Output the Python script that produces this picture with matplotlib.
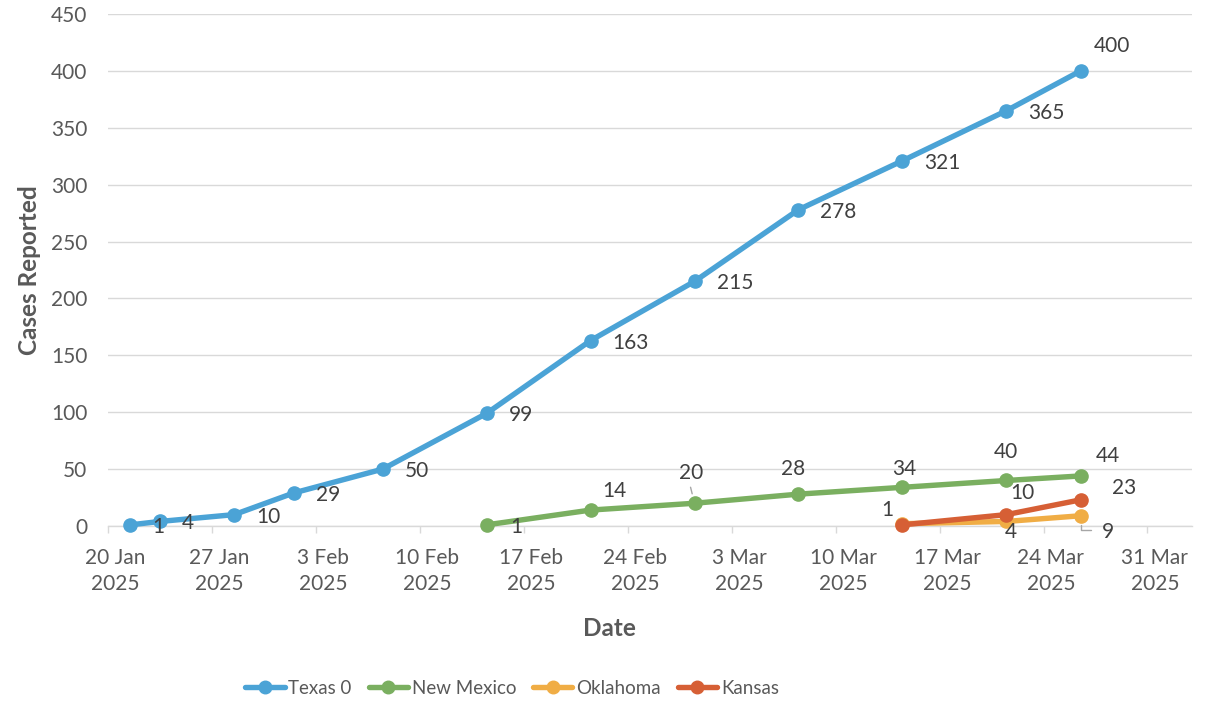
import datetime as dt
import matplotlib
matplotlib.use("Agg")
import matplotlib.pyplot as plt
import matplotlib.dates as mdates
from matplotlib.ticker import FixedLocator, MultipleLocator

plt.rcParams["font.family"] = ["Lato", "DejaVu Sans"]

# ---- data -------------------------------------------------------------
texas_dates = ["2025-01-21", "2025-01-23", "2025-01-28", "2025-02-01", "2025-02-07",
               "2025-02-14", "2025-02-21", "2025-02-28", "2025-03-07", "2025-03-14",
               "2025-03-21", "2025-03-26"]
texas_cases = [1, 4, 10, 29, 50, 99, 163, 215, 278, 321, 365, 400]

nm_dates = ["2025-02-14", "2025-02-21", "2025-02-28", "2025-03-07", "2025-03-14",
            "2025-03-21", "2025-03-26"]
nm_cases = [1, 14, 20, 28, 34, 40, 44]

ok_dates = ["2025-03-14", "2025-03-21", "2025-03-26"]
ok_cases = [2, 4, 9]

ks_dates = ["2025-03-14", "2025-03-21", "2025-03-26"]
ks_cases = [1, 10, 23]

series_names = ["Texas 0", "New Mexico", "Oklahoma", "Kansas"]

# ---- styling ----------------------------------------------------------
TXT = "#595959"
GRID = "#d9d9d9"
colors = ["#4ba3d6", "#7aaf60", "#f0ad45", "#d65f35"]

# label offsets in pixels (dx, dy, ha) for each point
tx_off = [(22, -2, "left")] * 11 + [(31, 25, "center")]
nm_off = [(24, -2, "left"), (24, 19, "center"), (-3, 30, "center"), (-5, 25, "center"),
          (2, 18, "center"), (0, 28, "center"), (27, 20, "center")]
ok_off = [None, (4, -11, "center"), (27, -16, "center")]
ks_off = [(-15, 15, "center"), (16, 22, "center"), (43, 12, "center")]

W, H = 1208, 703
fig = plt.figure(figsize=(W / 100, H / 100), dpi=100)
ax = fig.add_axes([108 / W, 1 - 526 / H, (1192 - 108) / W, (526 - 14) / H])


def to_x(dates):
    # points sit in the middle of their day on the date axis
    return [mdates.date2num(dt.date.fromisoformat(d)) + 0.5 for d in dates]


all_series = [
    (texas_dates, texas_cases, tx_off),
    (nm_dates, nm_cases, nm_off),
    (ok_dates, ok_cases, ok_off),
    (ks_dates, ks_cases, ks_off),
]

for (dates, vals, offs), name, col in zip(all_series, series_names, colors):
    xs = to_x(dates)
    ax.plot(xs, vals, color=col, lw=3.9, marker="o", markersize=9.5,
            solid_capstyle="round", label=name, zorder=3, clip_on=False)
    for x, v, off in zip(xs, vals, offs):
        if off is None:
            continue
        dx, dy, ha = off
        ax.annotate(str(v), (x, v), xytext=(dx, dy), textcoords="offset pixels",
                    ha=ha, va="center", fontsize=15, color="#404040", zorder=4)

# leader lines for displaced labels
x20 = to_x([nm_dates[2]])[0]
ax.annotate("", (x20, nm_cases[2]), xytext=(-4, 16), textcoords="offset pixels",
            arrowprops=dict(arrowstyle="-", color="#a6a6a6", lw=1.0,
                            shrinkA=0, shrinkB=7))
x9 = to_x([ok_dates[2]])[0]
ax.annotate("", (x9, ok_cases[2]), xytext=(10, -14), textcoords="offset pixels",
            arrowprops=dict(arrowstyle="-", color="#a6a6a6", lw=1.0,
                            connectionstyle="angle,angleA=0,angleB=90",
                            shrinkA=0, shrinkB=7))

# ---- axes -------------------------------------------------------------
start = dt.date(2025, 1, 20)
ax.set_xlim(mdates.date2num(start), mdates.date2num(dt.date(2025, 4, 3)))
ax.set_ylim(0, 450)
ax.yaxis.set_major_locator(MultipleLocator(50))

week_starts = [start + dt.timedelta(days=7 * k) for k in range(11)]
ax.xaxis.set_major_locator(FixedLocator([mdates.date2num(d) + 0.5 for d in week_starts]))
ax.set_xticklabels([f"{d.day} {d.strftime('%b')}\n{d.year}" for d in week_starts])
ax.xaxis.set_minor_locator(FixedLocator([mdates.date2num(d) for d in week_starts]))

ax.tick_params(axis="x", which="major", length=0, pad=16, labelsize=15,
               labelcolor=TXT)
ax.tick_params(axis="x", which="minor", length=5, width=1, color=GRID)
ax.tick_params(axis="y", length=0, pad=15, labelsize=15, labelcolor=TXT)
for t in ax.get_xticklabels():
    t.set_linespacing(1.35)

ax.grid(axis="y", color=GRID, lw=1.0, zorder=0)
ax.set_axisbelow(True)
for s in ["top", "right", "left"]:
    ax.spines[s].set_visible(False)
ax.spines["bottom"].set_color(GRID)
ax.spines["bottom"].set_linewidth(1.0)

fig.text(30 / W, 1 - 270 / H, "Cases Reported", rotation=90, ha="center",
         va="center", fontsize=17.5, fontweight="bold", color=TXT)
fig.text(609 / W, 1 - 628 / H, "Date", ha="center", va="center",
         fontsize=17.5, fontweight="bold", color=TXT)

fig.legend(loc="center", bbox_to_anchor=(512 / W, 1 - 688 / H), ncol=4,
           frameon=False, fontsize=13.5, labelcolor=TXT, handlelength=2.1,
           handletextpad=0.2, columnspacing=0.9, markerscale=0.95)

fig.savefig("out.png", dpi=100)
